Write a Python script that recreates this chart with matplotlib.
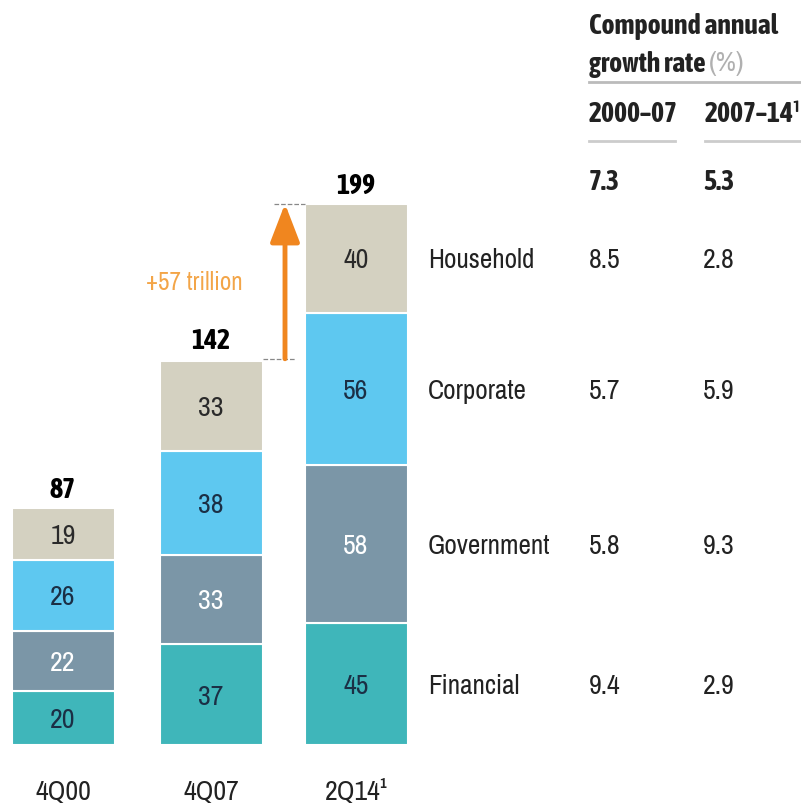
import matplotlib.pyplot as plt
import numpy as np

REG = ["Archivo Narrow", "Asap Condensed", "Liberation Sans", "DejaVu Sans"]
BOLD = ["Asap Condensed", "Archivo Narrow", "Liberation Sans", "DejaVu Sans"]
plt.rcParams["font.family"] = REG

periods = ["4Q00", "4Q07", "2Q14"]
sectors = ["Financial", "Government", "Corporate", "Household"]
values = {
    "Financial": [20, 37, 45],
    "Government": [22, 33, 58],
    "Corporate": [26, 38, 56],
    "Household": [19, 33, 40],
}
totals = [87, 142, 199]
cagr_00_07 = [9.4, 5.8, 5.7, 8.5]
cagr_07_14 = [2.9, 9.3, 5.9, 2.8]
cagr_total = ["7.3", "5.3"]

colors = {
    "Financial": "#3fb6ba",
    "Government": "#7b96a7",
    "Corporate": "#5ec8f0",
    "Household": "#d4d1c1",
}
text_colors = {
    "Financial": "#1b2f45",
    "Government": "white",
    "Corporate": "#1b2f45",
    "Household": "#2a2a2a",
}
dark = "#222222"

W, H = 801, 811
base_px, scale = 745, 2.72  # baseline pixel row, pixels per trillion

fig = plt.figure(figsize=(W / 100, H / 100), dpi=100)
ax = fig.add_axes([0, 0, 1, 1])
ax.set_xlim(0, W)
ax.set_ylim(-(H - base_px) / scale, base_px / scale)
ax.axis("off")


def fx(x):
    return x / W


def fy(y):
    return 1 - y / H


xs = np.array([63, 211, 356])
bottom = np.zeros(3)
for s in sectors:
    v = np.array(values[s])
    ax.bar(xs, v, bottom=bottom, width=103, color=colors[s],
           edgecolor="white", linewidth=1.5)
    for x, b, val in zip(xs, bottom, v):
        ax.text(x, b + val / 2, str(val), ha="center", va="center_baseline",
                fontsize=20, color=text_colors[s])
    bottom += v

for x, t in zip(xs, totals):
    ax.text(x, t + 7.5, str(t), ha="center", va="center_baseline", fontsize=20,
            fontweight="bold", family=BOLD, color="black")

for x, p in zip(xs, periods):
    label = p + "¹" if p == "2Q14" else p
    ax.text(x, -(790 - base_px) / scale, label, ha="center", va="center_baseline",
            fontsize=20, color=dark)

# growth arrow between 4Q07 and 2Q14
orange = "#f0861f"
ax.plot([263, 296], [totals[1], totals[1]], ls="--", lw=0.9, color="#888888")
ax.plot([274, 305], [totals[2], totals[2]], ls="--", lw=0.9, color="#888888")
ax.annotate("", xy=(285, totals[2]), xytext=(285, totals[1]),
            arrowprops=dict(arrowstyle="-|>,head_width=0.5,head_length=1.3",
                            color=orange, lw=3.5, mutation_scale=18,
                            shrinkA=0, shrinkB=0))
ax.text(194, (base_px - 281) / scale, f"+{totals[2] - totals[1]} trillion",
        ha="center", va="center_baseline", fontsize=18, color="#f3a548")

# sector labels and growth table
last = np.array([values[s][2] for s in sectors])
mids = np.cumsum(last) - last / 2
for s, m, a, b in zip(sectors, mids, cagr_00_07, cagr_07_14):
    ax.text(428, m, s, ha="left", va="center_baseline", fontsize=19.5, color=dark)
    ax.text(589, m, f"{a:.1f}", ha="left", va="center_baseline", fontsize=20, color=dark)
    ax.text(703, m, f"{b:.1f}", ha="left", va="center_baseline", fontsize=20, color=dark)

fig.text(fx(589), fy(23), "Compound annual", ha="left", va="center_baseline",
         fontsize=20, fontweight="bold", family=BOLD, color=dark)
t = fig.text(fx(589), fy(61), "growth rate ", ha="left", va="center_baseline",
             fontsize=20, fontweight="bold", family=BOLD, color=dark)
fig.canvas.draw()
bb = t.get_window_extent()
fig.text(bb.x1 / W, fy(61), "(%)", ha="left", va="center_baseline", fontsize=20,
         color="#b0b0b0")
fig.add_artist(plt.Line2D([fx(589), fx(801)], [fy(82), fy(82)], color="#bbbbbb", lw=2))
fig.text(fx(589), fy(112), "2000–07", ha="left", va="center_baseline",
         fontsize=20, fontweight="bold", family=BOLD, color=dark)
fig.text(fx(705), fy(112), "2007–14¹", ha="left", va="center_baseline",
         fontsize=20, fontweight="bold", family=BOLD, color=dark)
fig.add_artist(plt.Line2D([fx(589), fx(675)], [fy(141), fy(141)], color="#cccccc", lw=2))
fig.add_artist(plt.Line2D([fx(705), fx(801)], [fy(141), fy(141)], color="#cccccc", lw=2))
fig.text(fx(589), fy(180), cagr_total[0], ha="left", va="center_baseline",
         fontsize=20, fontweight="bold", family=BOLD, color=dark)
fig.text(fx(703), fy(180), cagr_total[1], ha="left", va="center_baseline",
         fontsize=20, fontweight="bold", family=BOLD, color=dark)

fig.savefig("out.png", dpi=100, facecolor="white")
